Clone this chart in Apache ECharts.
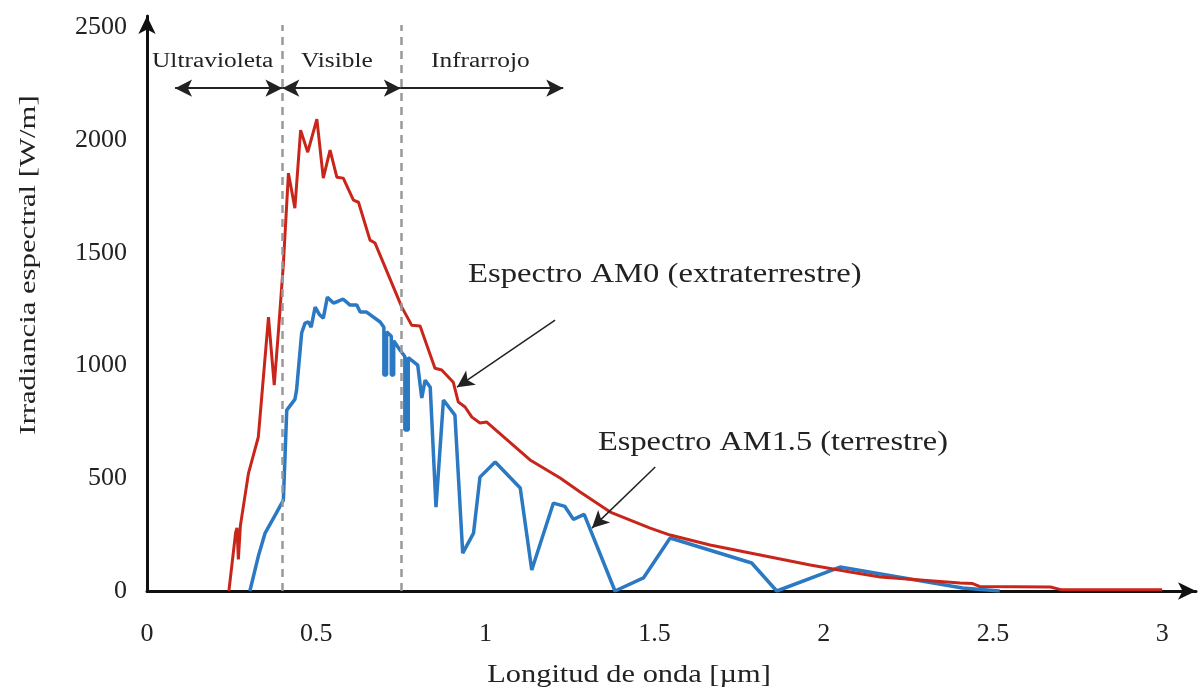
<!DOCTYPE html>
<html>
<head>
<meta charset="utf-8">
<script src="https://cdn.jsdelivr.net/npm/echarts@6/dist/echarts.min.js"></script>
<style>
html,body{margin:0;padding:0;background:#fff;}
#chart{width:1200px;height:690px;}
</style>
</head>
<body>
<div id="chart"></div>
<script>
// Wavelength [µm], irradiance
const am0Spectrum = [
  [0.242,0],[0.262,260],[0.266,280],[0.270,140],[0.276,290],[0.300,523],[0.329,683],[0.339,860],
  [0.359,1215],[0.376,913],[0.388,1144],[0.403,1450],[0.418,1853],[0.437,1698],[0.454,2044],
  [0.475,1946],[0.502,2092],[0.521,1831],[0.541,1955],[0.561,1835],[0.580,1831],[0.610,1733],
  [0.625,1724],[0.659,1556],[0.674,1543],[0.753,1259],[0.782,1179],[0.807,1175],[0.851,988],
  [0.871,980],[0.905,926],[0.920,838],[0.940,816],[0.960,771],[0.984,745],[1.004,749],
  [1.132,581],[1.221,501],[1.280,439],[1.369,350],[1.487,279],[1.546,248],[1.664,204],
  [1.812,160],[1.960,115],[2.078,84],[2.167,62],[2.403,35],[2.44,33],[2.46,20],[2.67,18],
  [2.70,6],[3.0,5]
];
const am15Spectrum = [
  [0.304,0],[0.330,160],[0.349,257],[0.380,340],[0.403,403],[0.413,802],[0.437,850],[0.442,891],
  [0.457,1144],[0.467,1188],[0.477,1193],[0.485,1170],[0.497,1259],[0.510,1225],[0.521,1210],
  [0.533,1303],[0.551,1277],[0.565,1285],[0.580,1294],[0.600,1268],[0.620,1268],[0.630,1237],
  [0.649,1237],[0.689,1193],[0.700,1170],[0.700,958],[0.708,958],[0.708,1150],[0.722,1130],
  [0.722,958],[0.729,958],[0.729,1110],[0.748,1068],[0.762,1040],[0.762,714],[0.772,714],
  [0.772,1035],[0.777,1033],[0.800,1002],[0.812,856],[0.822,935],[0.837,904],[0.854,372],
  [0.876,847],[0.910,780],[0.933,168],[0.965,257],[0.984,505],[1.029,572],[1.103,457],
  [1.137,93],[1.201,390],[1.235,375],[1.260,318],[1.292,340],[1.383,0],[1.467,58],[1.546,235],
  [1.787,124],[1.861,0],[2.048,106],[2.41,13],[2.52,0]
];
const xTicks = [0,0.5,1,1.5,2,2.5,3];
const yTicks = [0,500,1000,1500,2000,2500];
const regionBounds = [0.4, 0.75];
const regionLabels = ['Ultravioleta','Visible','Infrarrojo'];
const seriesLabels = ['Espectro AM0 (extraterrestre)','Espectro AM1.5 (terrestre)'];
const xName = 'Longitud de onda [µm]';
const yName = 'Irradiancia espectral [W/m]';

const FONT = '"Liberation Serif", "DejaVu Serif", serif';
const chart = echarts.init(document.getElementById('chart'), null, {renderer:'canvas'});

const arrowItem = (p1, p2, s1, s2, w) => [
  {coord:p1, symbol:s1, lineStyle:{color:'#222', width:w, type:'solid'}},
  {coord:p2, symbol:s2}
];
const dashItem = (x) => [
  {coord:[x,0], symbol:'none', lineStyle:{color:'#999', width:2.5, type:[8,6]}},
  {coord:[x,2510], symbol:'none'}
];
const txt = (text, x, y, size, sx, extra) => Object.assign({
  type:'text', x:x, y:y, scaleX:sx, scaleY:1,
  style:{text:text, font:size+'px '+FONT, fill:'#222', align:'left', verticalAlign:'middle'}
}, extra || {});

const option = {
  animation:false,
  grid:{left:147, right:4, top:16, bottom:99, containLabel:false},
  xAxis:{
    type:'value', min:0, max:3.1, interval:0.5,
    axisLine:{show:true, onZero:false, symbol:['none','arrow'], symbolSize:[13,18], lineStyle:{color:'#111', width:3}},
    axisTick:{show:false}, splitLine:{show:false},
    axisLabel:{color:'#222', fontFamily:FONT, fontSize:26, margin:30,
      formatter:(v)=> xTicks.some(t=>Math.abs(t-v)<1e-6) ? String(v) : ''}
  },
  yAxis:{
    type:'value', min:0, max:2550, interval:500,
    axisLine:{show:true, onZero:false, symbol:['none','arrow'], symbolSize:[13,18], lineStyle:{color:'#111', width:3}},
    axisTick:{show:false}, splitLine:{show:false},
    axisLabel:{color:'#222', fontFamily:FONT, fontSize:26, margin:20,
      formatter:(v)=> yTicks.some(t=>Math.abs(t-v)<1e-6) ? String(v) : ''}
  },
  series:[
    {
      name:seriesLabels[0], type:'line', data:am0Spectrum, showSymbol:false, symbol:'none',
      lineStyle:{color:'#c9261b', width:3}, itemStyle:{color:'#c9261b'}, z:3,
      markLine:{
        silent:true, animation:false, symbolSize:[13,17], label:{show:false},
        emphasis:{disabled:true},
        data:[
          dashItem(regionBounds[0]),
          dashItem(regionBounds[1]),
          arrowItem([0.083,2230],[regionBounds[0],2230],'arrow','arrow',2),
          arrowItem([regionBounds[0],2230],[regionBounds[1],2230],'arrow','arrow',2),
          arrowItem([regionBounds[1],2230],[1.23,2230],'none','arrow',2),
          arrowItem([1.206,1201],[0.916,904],'none','arrow',1.5),
          arrowItem([1.502,550],[1.315,279],'none','arrow',1.5)
        ]
      }
    },
    {
      name:seriesLabels[1], type:'line', data:am15Spectrum, showSymbol:false, symbol:'none',
      lineStyle:{color:'#2a79c2', width:3.5}, itemStyle:{color:'#2a79c2'}, z:2
    }
  ],
  graphic:[
    txt(regionLabels[0], 152, 62, 20, 1.27),
    txt(regionLabels[1], 301, 62, 20, 1.27),
    txt(regionLabels[2], 431, 62, 20, 1.27),
    txt(seriesLabels[0], 468, 275, 27, 1.21),
    txt(seriesLabels[1], 598, 443, 27, 1.2),
    {type:'text', x:629, y:675, scaleX:1.17,
      style:{text:xName, font:'26px '+FONT, fill:'#222', align:'center', verticalAlign:'middle'}},
    {type:'text', x:29, y:265, rotation:Math.PI/2, scaleX:1.28,
      style:{text:yName, font:'24px '+FONT, fill:'#222', align:'center', verticalAlign:'middle'}}
  ]
};
chart.setOption(option);
</script>
</body>
</html>
